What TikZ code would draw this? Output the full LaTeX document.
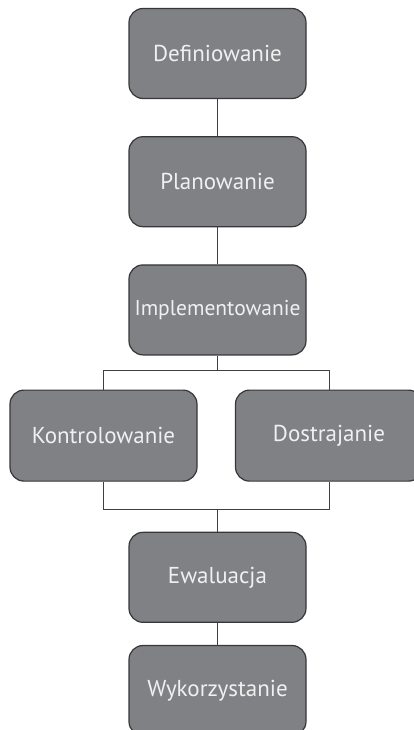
\documentclass[tikz,border=0pt]{standalone}
\usepackage{fontspec}
\setmainfont{PT Sans}
\usepackage{xcolor}
\usepackage{tikz}
\usetikzlibrary{positioning}
\definecolor{boxgray}{RGB}{128,129,133}
\definecolor{edgegray}{RGB}{55,55,58}
\definecolor{linkgray}{RGB}{64,64,66}
\tikzset{
  stagebox/.style={rectangle, draw=edgegray, line width=1.2pt, rounded corners=14pt,
                   fill=boxgray, minimum width=177pt, minimum height=90pt,
                   inner xsep=2pt, align=center, text=white!94!black,
                   font=\fontsize{23}{27}\selectfont},
  sidebox/.style={stagebox, minimum width=187pt, minimum height=91pt},
  link/.style={draw=linkgray, line width=1pt},
}
\begin{document}
\begin{tikzpicture}
  \useasboundingbox (0pt,0pt) rectangle (413pt,-730pt);

  %% Main chain
  \node[stagebox] (def) at (217.5pt,-53.5pt) {Definiowanie};
  \node[stagebox, below=37pt of def] (plan) {Planowanie};
  \node[stagebox, below=37pt of plan, font=\fontsize{21.5}{25}\selectfont] (impl)
    {Implementowanie};

  %% Two parallel stages
  \node[sidebox, below=34pt of impl, xshift=-114pt] (kon) {Kontrolowanie};
  \node[sidebox, below=34pt of impl, xshift=111.5pt] (dos) {Dostrajanie};

  %% Evaluation and use
  \node[stagebox, below=50pt of kon, xshift=114pt] (ewal) {Ewaluacja};
  \node[stagebox, below=22pt of ewal] (wyk) {Wykorzystanie};

  %% Junction points
  \coordinate[below=15pt of impl] (fork);
  \coordinate[above=22pt of ewal] (join);

  %% Connectors
  \draw[link] (def)  -- (plan);
  \draw[link] (plan) -- (impl);
  \draw[link] (impl) -- (fork);
  \draw[link] (fork) -| (kon);
  \draw[link] (fork) -| (dos);
  \draw[link] (kon)  |- (join);
  \draw[link] (dos)  |- (join);
  \draw[link] (join) -- (ewal);
  \draw[link] (ewal) -- (wyk);

\end{tikzpicture}
\end{document}
